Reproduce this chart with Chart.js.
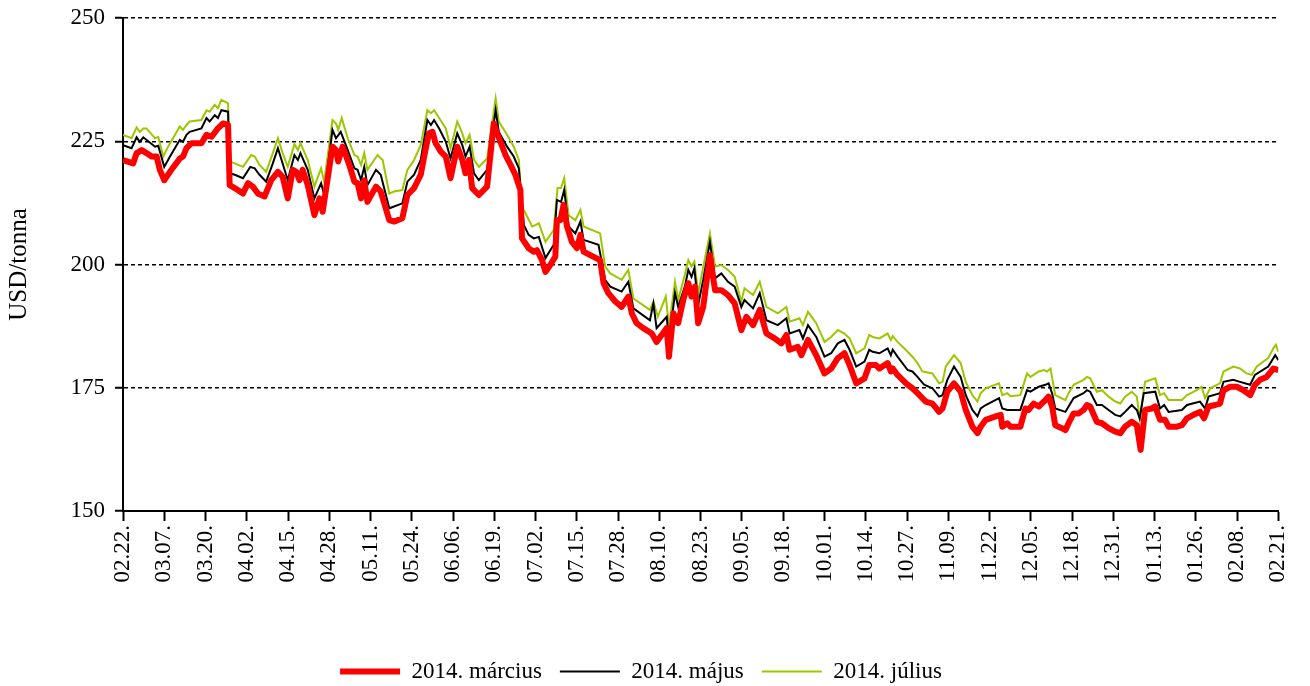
<!DOCTYPE html>
<html><head><meta charset="utf-8">
<script src="https://cdn.jsdelivr.net/npm/chart.js@4.4.1/dist/chart.umd.min.js"></script>
<style>html,body{margin:0;padding:0;background:#fff}canvas{display:block}</style>
</head><body>
<canvas id="c" width="1310" height="686"></canvas>
<script>
const xLabels = ['02.22.','03.07.','03.20.','04.02.','04.15.','04.28.','05.11.','05.24.','06.06.','06.19.','07.02.','07.15.','07.28.','08.10.','08.23.','09.05.','09.18.','10.01.','10.14.','10.27.','11.09.','11.22.','12.05.','12.18.','12.31.','01.13.','01.26.','02.08.','02.21.'];
const seriesNames = ['2014. március','2014. május','2014. július'];
const yTitle = 'USD/tonna';

// day offsets from 2013.02.22 and prices (USD/tonna)
const marchDays = [0,3.2,4.3,5.9,7.4,9.0,10.6,11.6,13.0,14.8,17.9,18.9,20.0,21.6,24.7,26.3,27.9,29.9,31.5,33.1,33.6,35.2,37.8,39.4,40.9,42.5,44.6,46.7,48.8,50.3,51.9,53.5,54.6,55.6,56.6,58.2,
60.3,61.9,62.9,66.0,67.1,67.8,69.2,71.3,72.9,73.9,75.0,76.0,77.0,79.7,81.2,83.9,85.4,88.0,89.6,91.7,93.8,95.4,96.4,97.5,98.5,100.1,101.7,103.2,105.3,106.9,107.9,109.0,110.0,112.1,114.7,116.8,117.9,120.5,122.1,
123.6,125.2,125.7,127.8,129.4,130.4,132.0,133.1,134.6,136.2,136.7,137.8,138.8,139.9,141.4,143.0,144.1,145.1,147.2,150.3,151.4,152.9,155.1,157.1,159.2,160.3,161.8,163.9,166.6,168.1,169.7,171.3,172.0,173.4,174.9,176.5,178.1,179.1,180.2,181.2,
182.8,184.9,186.5,188.5,190.6,192.7,194.8,196.4,198.5,200.6,202.7,205.3,207.4,209.0,210.0,212.6,213.7,215.8,218.4,221.0,223.1,225.2,227.3,228.9,231.0,233.6,235.1,237.2,238.3,240.9,241.9,
242.5,244,247.2,248.7,250.3,252.9,255,257.1,258.2,259.7,261.8,263.9,265.5,267.6,269.2,270.2,271.8,274.9,276.5,277,278.6,279.6,282.7,284.3,285.3,286.9,288.5,290.6,291.6,292.7,293.7,295.8,296.9,297.9,299.5,301.1,302.6,
303.7,304.7,306.8,308.4,310.5,312.6,314.2,315.7,317.8,319.4,320.6,322,324.1,325.2,326.7,328.3,329.4,332,333.6,335.2,337.2,339.3,340.6,342,344.1,345.6,346.7,348.8,350.9,353,355.1,356.6,358.2,360.3,362.4,364];
const marchPrices = [221.2,220.5,222.6,223.2,222.6,221.9,221.9,219.2,217.1,218.8,221.5,221.9,223.6,224.6,224.6,226.3,225.9,227.6,228.6,228.3,216.1,215.5,214.4,216.5,215.8,214.4,213.8,217.1,218.8,217.8,213.4,219.2,218.8,217.1,219.2,216.1,
210.0,213.4,210.7,223.9,223.2,220.9,223.9,220.2,216.8,216.5,213.4,217.1,212.7,215.8,214.8,209.0,208.7,209.4,214.1,215.5,218.2,223.6,226.6,226.9,224.6,222.9,221.9,217.5,223.9,221.2,218.5,221.2,215.5,214.1,215.8,228.6,226.6,222.2,220.2,
218.2,215.1,205.3,203.3,202.6,202.9,200.9,198.5,199.9,201.6,209.0,209.0,212.1,207.7,204.6,203.3,206.0,202.6,201.9,200.9,196.2,194.2,192.5,191.4,193.5,190.1,188.1,187.1,186.0,184.3,185.7,187.1,181.3,190.1,188.1,192.8,196.2,193.5,195.5,188.1,
191.4,201.9,194.8,194.8,193.8,192.1,186.7,189.4,187.7,190.8,186.0,185.0,184.0,185.7,182.7,183.3,181.6,184.7,181.6,177.9,178.9,181.0,182.0,179.6,175.9,176.9,179.6,179.6,178.9,180.0,178.3,
178.9,177.6,175.6,174.9,173.9,172.2,171.8,170.1,170.8,174.2,175.9,174.2,170.5,167.1,165.8,167.1,168.5,169.2,169.5,167.1,167.8,167.1,167.1,170.8,170.5,171.8,171.2,172.5,173.2,171.2,167.4,166.8,166.4,167.8,169.8,169.8,170.5,
171.5,171.2,168.1,167.8,166.8,166.1,165.8,167.1,168.1,167.4,162.4,170.5,170.8,171.2,168.5,168.5,167.1,167.1,167.4,168.8,169.5,170.1,168.8,171.2,171.5,171.8,174.5,175.2,175.2,174.5,173.5,175.6,176.6,177.2,178.9,178.6];

const mayDays = [0,2.7,4.3,5.3,6.4,10.1,11.1,13.0,14.8,17.9,18.9,20,21,24.7,26.3,27.3,28.9,29.9,31.0,33.1,33.6,35.2,37.8,40.1,41.5,43.0,45.1,47.2,48.8,50.3,51.9,54.0,55.1,55.9,58.2,
60.3,62.4,63.4,66,67.1,68.6,70.8,72.9,73.9,75,76,77,79.7,81.2,83.9,88,89.6,91.7,93.8,95.9,97,98,99.6,101.7,103.2,105.3,106.9,107.9,109.2,110.6,112.1,114.7,117.4,118.4,121,123.1,
124.7,126.3,127.8,129.4,131,133.1,135.7,136.7,138,139,140.4,142.5,144.1,145.1,149.8,151.9,153.5,157.1,159.2,160.8,166,167.1,168.1,171.3,172,173.9,174.9,177,178.1,179.1,180,181.2,
182.8,184.9,186.5,188.5,190.6,192.7,194.8,195.8,198.5,200.6,202.7,206.3,209,210,213.1,214.2,215.8,218.4,221,223.1,225.2,227.3,228.9,231,233.6,235.1,236.2,238.3,240.9,241.9,
242.5,244,247.2,248.7,250.3,252.4,255,257.1,258.2,259.7,261.8,263.9,265.5,267.6,269.2,270.2,271.8,276,277,278.6,282.7,284.8,285.9,288.5,290.6,291.6,292.7,293.7,296.9,297.9,299.5,302.6,
303.7,304.7,306.8,308.4,310.5,312.6,314.2,315.7,317.8,319.4,320.3,321.6,325.2,326.7,328,329.4,333.6,335.2,339.3,340.9,342,345.6,346.7,349.8,351.9,355.1,356.6,360.8,363,364];
const mayPrices = [224.2,223.6,225.8,224.9,225.8,223.9,224.1,219.8,221.9,225.3,224.9,226.3,226.9,227.6,229.7,229.0,230.3,229.7,231.3,231.0,218.5,218.2,217.5,219.8,219.5,218.2,216.8,220.5,223.6,220.5,217.1,222.2,221.2,222.6,219.2,
213.4,216.5,214.1,227.3,225.6,226.9,223.2,219.5,219.2,217.1,219.8,216.1,219.2,218.2,211.4,212.4,216.8,218.2,221.2,229.3,228.3,229.3,227.6,224.9,221.5,226.6,224.2,221.9,223.9,218.5,217.1,219.2,231.3,226.9,223.9,221.9,
219.5,208.0,206.0,205.3,205.6,201.3,204.0,213.1,212.7,215.1,207.7,206.3,208.7,205.0,204.0,196.9,195.5,194.5,196.5,191.1,188.7,192.1,187.1,189.4,184.3,194.2,191.4,195.5,198.9,197.5,199.2,191.8,
196.9,204.6,197.2,198.2,196.5,195.5,191.4,192.8,191.1,194.2,188.7,187.7,189.1,186.0,186.7,185.0,187.7,185.3,181.3,182.0,184.0,184.7,182.7,179.3,180.3,182.7,182.3,182.0,183.0,181.6,
182.7,181.3,178.6,178.3,177.2,175.6,174.9,173.2,173.5,176.6,179.3,177.2,173.5,170.5,169.2,170.8,171.5,172.9,170.8,170.5,170.5,174.5,174.2,175.2,175.6,175.9,173.9,170.8,170.1,171.2,172.9,173.9,
174.5,174.2,171.5,171.5,170.5,169.5,169.2,170.1,171.5,170.5,168.8,173.9,174.2,170.8,171.5,170.1,170.5,171.5,172.2,170.8,173.2,173.9,176.2,176.6,176.2,175.6,177.6,179.3,181.6,180.6];

const julyDays = [0,2.7,4.3,5.3,6.4,7.4,10.1,11.1,12.7,14.2,17.9,18.9,20,21,24.7,26.3,27.3,28.9,29.9,31.0,33.1,33.6,35.2,37.8,40.4,41.5,43.0,45.1,47.2,48.8,50.3,51.9,54.0,55.1,55.9,58.2,
60.3,62.4,63.4,66,67.1,67.8,68.9,70.8,72.9,73.9,75,76,77,80.2,81.8,83.9,85.4,88,89.6,91.7,93.8,95.9,97,98,99.6,101.7,103.2,105.3,106.9,107.9,109.2,110.6,112.1,114.7,117.4,118.4,121,123.1,
124.7,125.7,126.8,128.9,129.9,131,133.1,135.7,136.9,138,139,140.4,142.5,144.1,145.1,150.3,151.9,153.5,157.1,159.2,160.8,166,167.1,168.5,171,172,173.9,174.9,177,178.1,179.1,180,181.2,
182.8,184.9,186.5,188.5,190.6,192.7,194.8,195.8,198.5,200.6,202.7,206.3,209,210,213.1,214.2,215.8,218.4,221,223.1,225.2,227.3,228.9,231,233.6,235.1,236.2,238.3,240.9,241.9,
242.5,244,246.1,248.7,250.3,251.8,255,257.1,258.2,259.2,261.8,263.9,265.5,267.6,269.2,270.2,271.8,276,277,278.6,279.6,282.7,284.8,285.9,288.5,290.1,291.1,292.2,293.7,296.9,297.9,299.5,302.6,
303.7,304.7,306.8,308.4,310.5,312.6,314.2,315.7,317.8,319.4,320.3,322,325.2,326.7,328,329.4,333.6,335.2,338.3,339.8,340.9,342.5,345.6,346.7,349.8,351.9,354,355.6,357.2,360.8,362.4,363.2,364];
const julyPrices = [226.3,225.6,227.8,226.9,227.6,227.6,225.6,225.9,221.9,223.9,228.0,227.3,228.3,229.0,229.3,231.3,231.0,232.4,231.7,233.4,232.7,220.9,220.5,219.8,222.2,221.9,220.2,218.8,222.6,225.6,222.6,219.8,224.4,223.2,224.6,221.2,
215.8,219.5,216.8,229.3,228.6,227.3,229.7,225.6,222.2,221.9,220.2,222.6,219.2,222.2,221.2,214.4,214.8,215.1,219.2,221.2,224.2,231.3,230.7,231.3,229.7,227.6,223.6,229.0,226.6,224.6,226.3,221.2,219.8,221.5,233.7,229.0,226.3,223.9,
221.2,211.7,210.4,207.7,208.0,208.4,204.6,207.0,215.5,215.5,217.5,210.0,209.0,211.1,207.7,206.3,199.6,198.2,196.9,198.9,193.1,190.8,192.5,189.4,193.5,187.4,196.5,192.8,197.9,200.9,199.6,200.6,194.2,
199.5,206.3,199.6,199.9,198.9,197.5,192.5,195.2,193.8,196.5,191.4,190.1,191.4,188.4,189.1,187.7,190.4,188.1,184.3,185.3,186.7,186.0,185.0,182.0,183.0,185.7,185.3,185.0,186.0,184.7,
185.5,184.3,183.0,181.3,180.0,178.3,177.9,175.9,176.2,179.3,181.6,180.0,176.2,173.5,172.2,173.9,174.9,175.9,173.5,173.9,173.3,173.5,177.9,177.2,178.3,178.6,178.3,178.9,173.5,172.5,173.9,175.6,176.6,
177.2,176.9,174.2,174.5,173.2,172.2,171.8,173.2,174.2,173.2,168.8,176.2,176.9,173.5,173.9,172.5,172.5,173.5,174.5,175.2,172.9,174.9,175.9,178.3,179.3,178.9,177.9,177.6,179.3,181.0,183.0,183.7,182.3];

const yTicks = [150, 175, 200, 225, 250];

function pts(days, prices){ return days.map((d, i) => ({x: d, y: prices[i]})); }

const FONT = '"Liberation Serif", "Times New Roman", serif';
Chart.defaults.font.family = FONT;
Chart.defaults.color = '#000';

const legendShift = {
  id: 'legendShift',
  afterLayout(chart){ const l = chart.legend; if (l){ l.top += 7; l.bottom += 7; } }
};

new Chart(document.getElementById('c'), {
  type: 'line',
  data: {
    datasets: [
      {label: seriesNames[0], data: pts(marchDays, marchPrices), borderColor: '#FF0000', borderWidth: 6, pointBorderWidth: 6, pointBorderColor: '#FF0000', borderJoinStyle: 'round'},
      {label: seriesNames[1], data: pts(mayDays, mayPrices), borderColor: '#000000', borderWidth: 2, pointBorderWidth: 2, pointBorderColor: '#000000'},
      {label: seriesNames[2], data: pts(julyDays, julyPrices), borderColor: '#9CC700', borderWidth: 2, pointBorderWidth: 2, pointBorderColor: '#9CC700'}
    ]
  },
  options: {
    responsive: false,
    animation: false,
    devicePixelRatio: 1,
    layout: {padding: {left: 0, right: 28, top: 18, bottom: 0}},
    elements: {point: {radius: 0, hoverRadius: 0, pointStyle: 'line'}, line: {tension: 0, fill: false}},
    plugins: {
      tooltip: {enabled: false},
      legend: {
        position: 'bottom',
        labels: {usePointStyle: true, pointStyle: 'line', pointStyleWidth: 60, padding: 18, color: '#000', font: {size: 23, family: FONT}}
      }
    },
    scales: {
      x: {
        type: 'linear', min: 0, max: 364,
        afterFit(s){ s.height = 124; },
        border: {display: true, color: '#000', width: 2},
        grid: {drawOnChartArea: false, drawTicks: true, tickLength: 10, tickColor: '#000', tickWidth: 2, color: '#000'},
        ticks: {stepSize: 13, autoSkip: false, maxRotation: 90, minRotation: 90, padding: 4, color: '#000', font: {size: 23, family: FONT},
          callback: (v) => xLabels[Math.round(v / 13)]}
      },
      y: {
        min: 150, max: 250,
        afterFit(s){ s.width = 123; s.paddingTop = 0; s.paddingBottom = 0; },
        afterBuildTicks(s){ s.ticks = yTicks.map(v => ({value: v})); },
        border: {display: true, color: '#000', width: 2, dash: [4, 3]},
        grid: {
          color: (c) => (c.tick && c.tick.value === 150) ? 'rgba(0,0,0,0)' : '#000',
          lineWidth: 1.5, drawTicks: true, tickLength: 8, tickColor: '#000', tickWidth: 2, tickBorderDash: []
        },
        ticks: {stepSize: 25, padding: 10, color: '#000', font: {size: 23, family: FONT}},
        title: {display: true, text: yTitle, color: '#000', font: {size: 25, family: FONT}, padding: {top: 4, bottom: 0}}
      }
    }
  },
  plugins: [legendShift]
});
</script>
</body></html>
